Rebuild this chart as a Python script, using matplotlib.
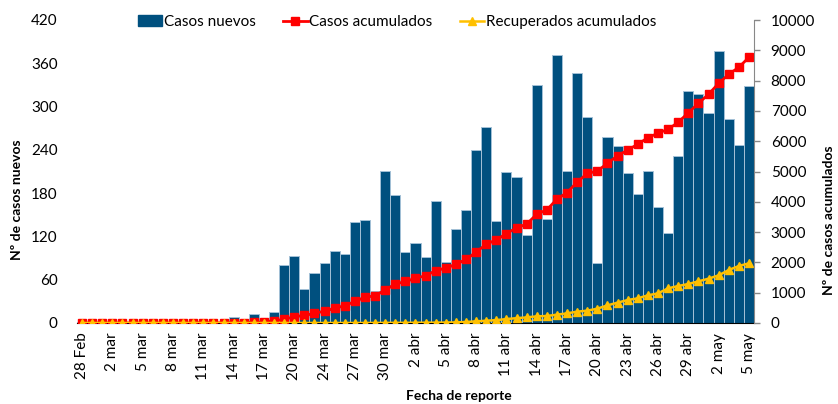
import matplotlib
matplotlib.use('Agg')
import matplotlib.pyplot as plt
import numpy as np
import pandas as pd
from matplotlib.patches import Patch
from matplotlib.lines import Line2D

plt.rcParams['font.family'] = ['Lato', 'DejaVu Sans']

# report dates, 28 Feb to 5 May 2020 (22 mar is not in the series)
meses = {2: 'Feb', 3: 'mar', 4: 'abr', 5: 'may'}
fechas = [d for d in pd.date_range('2020-02-28', '2020-05-05') if d != pd.Timestamp('2020-03-22')]
etiquetas = ['{} {}'.format(d.day, meses[d.month]) for d in fechas]

casos_nuevos = [2, 0, 1, 0, 0, 0, 0, 1, 0, 0, 0, 0, 3, 0, 0,
                9, 0, 12, 4, 15, 80, 93, 47, 70, 83, 100, 96, 140, 143, 44,
                210, 177, 98, 111, 92, 169, 85, 130, 157, 240, 272, 141, 209, 202, 122,
                330, 144, 372, 211, 347, 286, 83, 258, 245, 208, 179, 211, 161, 125, 231,
                322, 317, 291, 377, 283, 247, 328]

casos_acumulados = [0, 0, 1, 1, 1, 1, 1, 2, 2, 2, 2, 2, 5, 5, 5,
                    11, 11, 21, 34, 72, 120, 205, 250, 315, 395, 480, 575, 710, 852, 895,
                    1095, 1285, 1370, 1474, 1562, 1730, 1810, 1938, 2100, 2340, 2600, 2745, 2952, 3140, 3262,
                    3592, 3732, 4092, 4305, 4650, 4935, 5015, 5272, 5521, 5710, 5900, 6116, 6263, 6395, 6624,
                    6941, 7251, 7548, 7911, 8208, 8439, 8769]

recuperados = [0, 0, 0, 0, 0, 0, 0, 0, 0, 0, 0, 0, 0, 0, 0,
               0, 0, 0, 0, 0, 0, 0, 0, 0, 0, 0, 0, 0, 0, 2,
               3, 5, 5, 8, 10, 12, 15, 20, 33, 55, 75, 95, 130, 160, 185,
               220, 231, 275, 319, 374, 407, 473, 583, 671, 759, 814, 913, 979, 1144, 1221,
               1287, 1375, 1463, 1573, 1749, 1881, 1970]

azul = '#00507F'
rojo = '#FF0000'
amarillo = '#FFC000'

x = np.arange(len(etiquetas))

fig = plt.figure(figsize=(8.38, 4.04), dpi=100)
ax = fig.add_axes([77 / 838, 1 - 323 / 404, 677 / 838, 303 / 404])
ax2 = ax.twinx()

ax.bar(x, casos_nuevos, width=1.0, color=azul, edgecolor='#A3C0D6', linewidth=0.7)
ax2.plot(x, casos_acumulados, color=rojo, marker='s', markersize=6, linewidth=2)
ax2.plot(x, recuperados, color=amarillo, marker='^', markersize=6, linewidth=1.8)

ax.set_xlim(-0.5, len(x) - 0.5)
ax.set_ylim(0, 420)
ax.set_yticks(np.arange(0, 421, 60))
ax2.set_ylim(0, 10000)
ax2.set_yticks(np.arange(0, 10001, 1000))

ax.set_xticks(x[::3])
ax.set_xticklabels(etiquetas[::3], rotation=90, fontsize=11)
ax.tick_params(axis='x', length=0, pad=7)
ax.tick_params(axis='y', length=0, pad=14, labelsize=11)
ax2.tick_params(axis='y', length=4, width=1, color='#888888', pad=8, labelsize=11)

for s in ['top', 'left', 'right']:
    ax.spines[s].set_visible(False)
for s in ['top', 'left', 'bottom']:
    ax2.spines[s].set_visible(False)
ax.spines['bottom'].set_color('black')
ax2.spines['right'].set_color('#888888')

fig.text(17 / 838, 1 - 200 / 404, 'Nº de casos nuevos', rotation=90, ha='center', va='center',
         fontsize=10, fontweight='bold')
fig.text(829 / 838, 1 - 220 / 404, 'Nº de casos acumulados', rotation=90, ha='center', va='center',
         fontsize=10, fontweight='bold')
fig.text(459 / 838, 1 - 396 / 404, 'Fecha de reporte', ha='center', va='center',
         fontsize=10, fontweight='bold')

handles = [Patch(facecolor=azul, edgecolor=azul),
           Line2D([], [], color=rojo, marker='s', markersize=6, linewidth=2),
           Line2D([], [], color=amarillo, marker='^', markersize=6, linewidth=1.8)]
fig.legend(handles, ['Casos nuevos', 'Casos acumulados', 'Recuperados acumulados'],
           loc='center', bbox_to_anchor=(397 / 838, 1 - 22 / 404), ncol=3, frameon=False,
           fontsize=11, handlelength=1.6, handletextpad=0.1, columnspacing=1.8)

fig.savefig('out.png', dpi=100)
